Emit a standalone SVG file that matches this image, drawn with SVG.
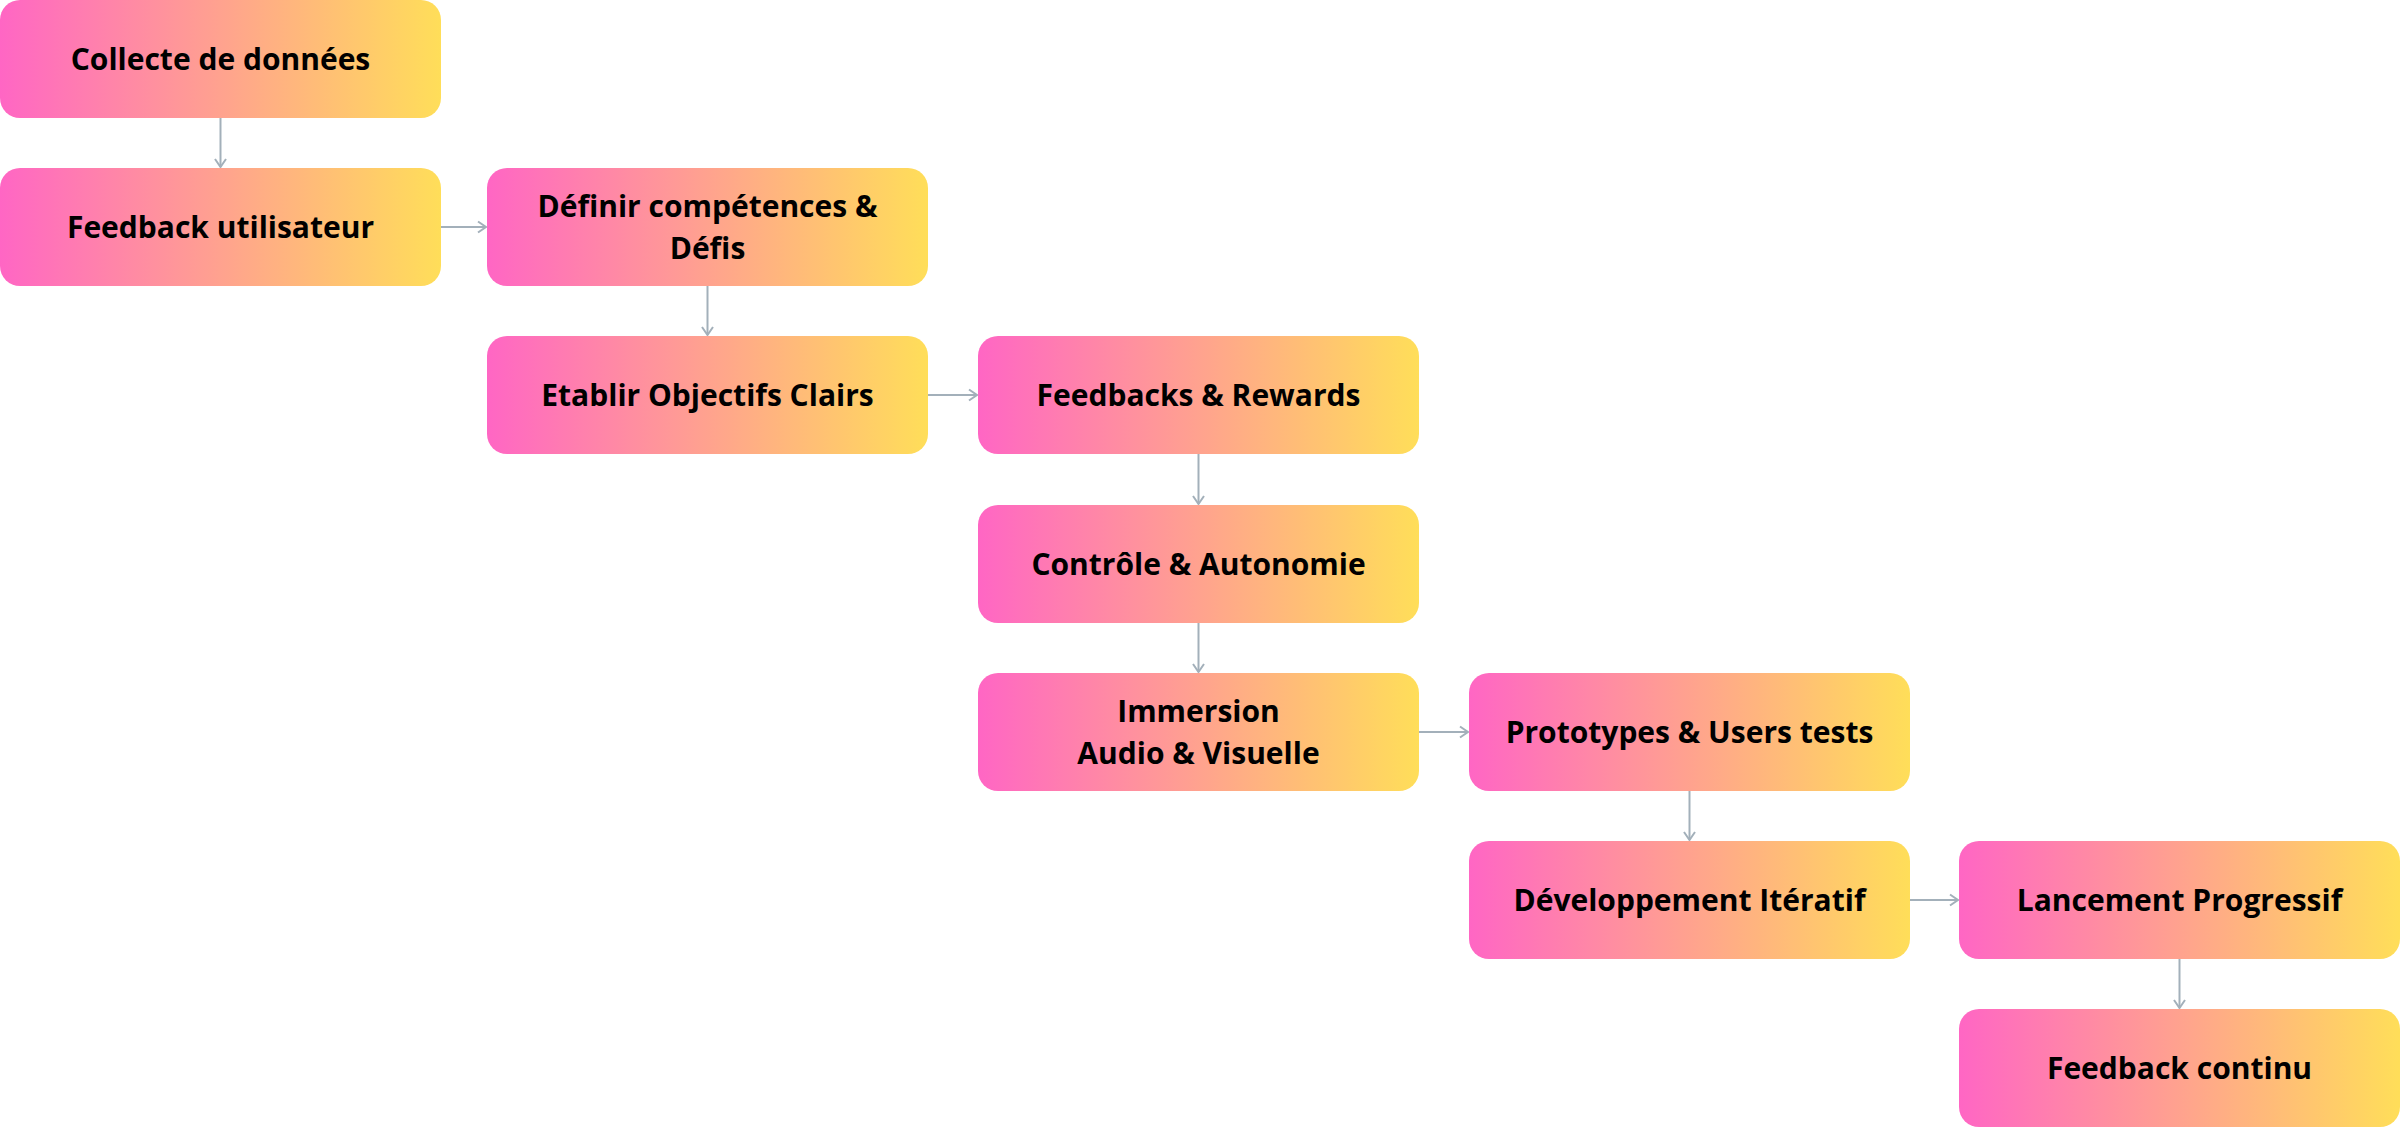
<svg xmlns="http://www.w3.org/2000/svg" width="2400" height="1127" viewBox="0 0 2400 1127">
<defs>
<linearGradient id="g" x1="0" y1="0" x2="1" y2="0">
<stop offset="0" stop-color="#FF66C4"/>
<stop offset="1" stop-color="#FFDE59"/>
</linearGradient>
<marker id="ah" markerUnits="userSpaceOnUse" markerWidth="12" markerHeight="14" viewBox="0 0 12 14" refX="10" refY="7" orient="auto">
<path d="M2,1.5 L10,7 L2,12.5" fill="none" stroke="#A3B0BA" stroke-width="2"/>
</marker>
<style>
.box{fill:url(#g)}
.t{font-family:"Open Sans","Noto Sans","DejaVu Sans",sans-serif;font-weight:700;font-size:30px;fill:#000;text-anchor:middle}
.c{stroke:#A3B0BA;stroke-width:2;fill:none;marker-end:url(#ah)}
</style>
</defs>
<rect width="2400" height="1127" fill="#fff"/>
<g id="connectors">
<line class="c" x1="220.5" y1="118" x2="220.5" y2="167"/>
<line class="c" x1="441" y1="227" x2="486" y2="227"/>
<line class="c" x1="707.5" y1="286" x2="707.5" y2="335"/>
<line class="c" x1="928" y1="395" x2="977" y2="395"/>
<line class="c" x1="1198.5" y1="454" x2="1198.5" y2="504"/>
<line class="c" x1="1198.5" y1="623" x2="1198.5" y2="672"/>
<line class="c" x1="1419" y1="732" x2="1468" y2="732"/>
<line class="c" x1="1689.5" y1="791" x2="1689.5" y2="840"/>
<line class="c" x1="1910" y1="900" x2="1958" y2="900"/>
<line class="c" x1="2179.5" y1="959" x2="2179.5" y2="1008"/>
</g>
<g id="n1"><rect class="box" x="0" y="0" width="441" height="118" rx="20"/><text class="t" x="220.5" y="70">Collecte de données</text></g>
<g id="n2"><rect class="box" x="0" y="168" width="441" height="118" rx="20"/><text class="t" x="220.5" y="238">Feedback utilisateur</text></g>
<g id="n3"><rect class="box" x="487" y="168" width="441" height="118" rx="20"/><text class="t" x="707.5" y="217">Définir compétences &amp;</text><text class="t" x="707.5" y="259">Défis</text></g>
<g id="n4"><rect class="box" x="487" y="336" width="441" height="118" rx="20"/><text class="t" x="707.5" y="406">Etablir Objectifs Clairs</text></g>
<g id="n5"><rect class="box" x="978" y="336" width="441" height="118" rx="20"/><text class="t" x="1198.5" y="406">Feedbacks &amp; Rewards</text></g>
<g id="n6"><rect class="box" x="978" y="505" width="441" height="118" rx="20"/><text class="t" x="1198.5" y="575">Contrôle &amp; Autonomie</text></g>
<g id="n7"><rect class="box" x="978" y="673" width="441" height="118" rx="20"/><text class="t" x="1198.5" y="722">Immersion</text><text class="t" x="1198.5" y="764">Audio &amp; Visuelle</text></g>
<g id="n8"><rect class="box" x="1469" y="673" width="441" height="118" rx="20"/><text class="t" x="1689.5" y="743">Prototypes &amp; Users tests</text></g>
<g id="n9"><rect class="box" x="1469" y="841" width="441" height="118" rx="20"/><text class="t" x="1689.5" y="911">Développement Itératif</text></g>
<g id="n10"><rect class="box" x="1959" y="841" width="441" height="118" rx="20"/><text class="t" x="2179.5" y="911">Lancement Progressif</text></g>
<g id="n11"><rect class="box" x="1959" y="1009" width="441" height="118" rx="20"/><text class="t" x="2179.5" y="1079">Feedback continu</text></g>
</svg>
